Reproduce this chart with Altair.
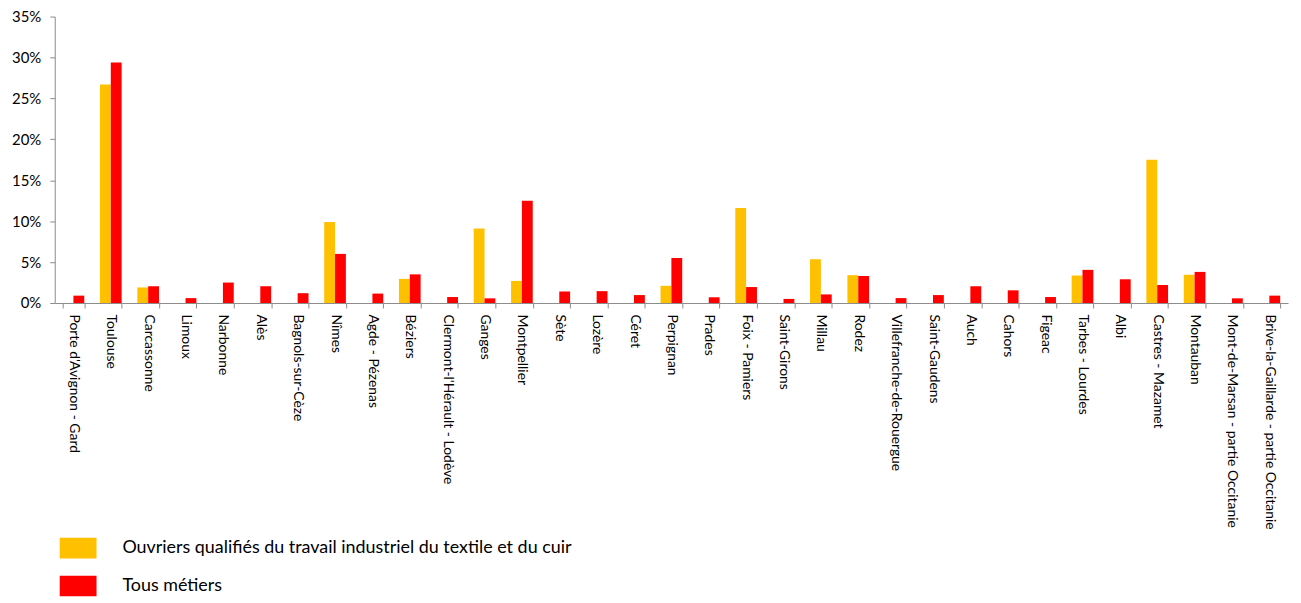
import altair as alt
import pandas as pd

categories = [
    "Porte d'Avignon - Gard", "Toulouse", "Carcassonne", "Limoux", "Narbonne", "Alès",
    "Bagnols-sur-Cèze", "Nîmes", "Agde - Pézenas", "Béziers", "Clermont-l'Hérault - Lodève",
    "Ganges", "Montpellier", "Sète", "Lozère", "Céret", "Perpignan", "Prades",
    "Foix - Pamiers", "Saint-Girons", "Millau", "Rodez", "Villefranche-de-Rouergue",
    "Saint-Gaudens", "Auch", "Cahors", "Figeac", "Tarbes - Lourdes", "Albi",
    "Castres - Mazamet", "Montauban", "Mont-de-Marsan - partie Occitanie",
    "Brive-la-Gaillarde - partie Occitanie",
]

series_names = ["Ouvriers qualifiés du travail industriel du textile et du cuir", "Tous métiers"]

# values in percent
ouvriers = [0, 26.7, 1.9, 0, 0, 0, 0, 9.9, 0, 2.95, 0, 9.1, 2.7, 0, 0, 0, 2.1, 0,
            11.6, 0, 5.35, 3.4, 0, 0, 0, 0, 0, 3.35, 0, 17.5, 3.45, 0, 0]
tous = [0.9, 29.4, 2.05, 0.6, 2.5, 2.05, 1.2, 6.0, 1.15, 3.5, 0.73, 0.57, 12.5, 1.4,
        1.45, 0.97, 5.5, 0.7, 1.95, 0.5, 1.05, 3.3, 0.6, 0.97, 2.05, 1.55, 0.73, 4.05,
        2.9, 2.2, 3.8, 0.57, 0.9]

rows = []
for i, c in enumerate(categories):
    rows.append({"cat": c, "serie": series_names[0], "v": ouvriers[i] / 100})
    rows.append({"cat": c, "serie": series_names[1], "v": tous[i] / 100})
df = pd.DataFrame(rows)

FONT = "Lato"

chart = alt.Chart(df).mark_bar().encode(
    x=alt.X("cat:N", sort=categories, title=None,
            scale=alt.Scale(paddingInner=0.42, paddingOuter=0.21),
            axis=alt.Axis(labelAngle=90, labelAlign="left", labelBaseline="middle",
                          labelFontSize=14, labelPadding=6, tickBand="extent",
                          tickSize=5, domainColor="#8c8c8c", tickColor="#8c8c8c",
                          labelColor="#000000", labelFont=FONT, labelLimit=300)),
    xOffset=alt.XOffset("serie:N", sort=series_names,
                        scale=alt.Scale(domain=series_names, paddingInner=0)),
    y=alt.Y("v:Q", title=None,
            scale=alt.Scale(domain=[0, 0.35], nice=False),
            axis=alt.Axis(format="%", values=[0, 0.05, 0.1, 0.15, 0.2, 0.25, 0.3, 0.35],
                          grid=False, tickSize=5, labelFontSize=15, labelPadding=9,
                          domainColor="#8c8c8c", tickColor="#8c8c8c",
                          labelColor="#000000", labelFont=FONT)),
    color=alt.Color("serie:N", sort=series_names,
                    scale=alt.Scale(domain=series_names, range=["#FFC000", "#FF0000"]),
                    legend=alt.Legend(title=None, orient="none", legendX=5, legendY=516,
                                      direction="vertical",
                                      symbolType="M-1,-0.56H1V0.56H-1Z", symbolSize=1369,
                                      symbolStrokeWidth=0, labelFontSize=18,
                                      labelFont=FONT, labelColor="#000000",
                                      labelOffset=26, rowPadding=9, labelLimit=800)),
).properties(
    width=1240, height=288,
    autosize=alt.AutoSizeParams(type="none"),
    padding={"left": 47, "top": 7, "right": 5, "bottom": 297},
).configure_view(stroke=None)

chart.save("out.html", embed_options={"renderer": "svg", "actions": False})
